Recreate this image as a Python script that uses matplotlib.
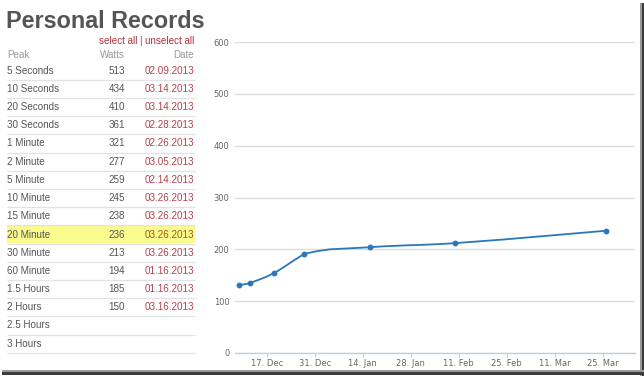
import numpy as np
import matplotlib
matplotlib.use("Agg")
import matplotlib.pyplot as plt
import matplotlib.dates as mdates
from matplotlib.path import Path
from matplotlib.patches import PathPatch, Rectangle
import datetime as dt

# ---------------- data ----------------
title = "Personal Records"
peaks = ["5 Seconds", "10 Seconds", "20 Seconds", "30 Seconds", "1 Minute",
         "2 Minute", "5 Minute", "10 Minute", "15 Minute", "20 Minute",
         "30 Minute", "60 Minute", "1.5 Hours", "2 Hours", "2.5 Hours", "3 Hours"]
watts = ["513", "434", "410", "361", "321", "277", "259", "245", "238", "236",
         "213", "194", "185", "150", "", ""]
dates_tbl = ["02.09.2013", "03.14.2013", "03.14.2013", "02.28.2013", "02.26.2013",
             "03.05.2013", "02.14.2013", "03.26.2013", "03.26.2013", "03.26.2013",
             "03.26.2013", "01.16.2013", "01.16.2013", "03.16.2013", "", ""]
highlight_row = "20 Minute"

series_dates = ["2012-12-09", "2012-12-12", "2012-12-19", "2012-12-28",
                "2013-01-16", "2013-02-10", "2013-03-26"]
series_values = [131, 135, 154, 191, 204, 212, 236]
y_ticks = [0, 100, 200, 300, 400, 500, 600]
x_ticks = ["2012-12-17", "2012-12-31", "2013-01-14", "2013-01-28",
           "2013-02-11", "2013-02-25", "2013-03-11", "2013-03-25"]
x_tick_labels = ["17. Dec", "31. Dec", "14. Jan", "28. Jan",
                 "11. Feb", "25. Feb", "11. Mar", "25. Mar"]

# ---------------- figure ----------------
W, H = 644, 376
fig = plt.figure(figsize=(W / 100, H / 100), dpi=100)
fig.patch.set_facecolor("white")

# overlay in pixel coordinates for the table
ov = fig.add_axes([0, 0, 1, 1])
ov.set_xlim(0, W)
ov.set_ylim(H, 0)
ov.axis("off")
ov.patch.set_visible(False)

TF = "Liberation Sans"
FS = 7.1
ov.text(6, 21, title, fontsize=16.8, fontweight="bold", color="#555555",
        family=TF, ha="left", va="center")

# select all | unselect all
ov.text(194, 41, "unselect all", fontsize=FS, color="#b0303a", family=TF,
        ha="right", va="center")
ov.text(140.3, 41, "|", fontsize=FS, color="#7a3a9a", family=TF,
        ha="center", va="center")
ov.text(138, 41, "select all", fontsize=FS, color="#b0303a", family=TF,
        ha="right", va="center")

# header
ov.text(7, 55.5, "Peak", fontsize=FS, color="#999999", family=TF, ha="left", va="center")
ov.text(125, 55.5, "Watts", fontsize=FS, color="#999999", family=TF, ha="right", va="center")
ov.text(194, 55.5, "Date", fontsize=FS, color="#999999", family=TF, ha="right", va="center")

y0, dy = 70.7, 18.2
for i, (p, w, d) in enumerate(zip(peaks, watts, dates_tbl)):
    yc = y0 + i * dy
    if p == highlight_row:
        ov.add_patch(Rectangle((7, yc - 9.6), 188, 18.0, facecolor="#fbfb8e",
                               edgecolor="none", zorder=0))
    ov.text(7, yc, p, fontsize=FS, color="#555555", family=TF, ha="left", va="center")
    ov.text(125, yc, w, fontsize=FS, color="#555555", family=TF, ha="right", va="center")
    dcol = "#9a5a10" if p == highlight_row else "#b5404a"
    ov.text(194, yc, d, fontsize=FS, color=dcol, family=TF, ha="right", va="center")
    ov.plot([7, 195], [yc + 9, yc + 9], color="#e2e2e2", lw=0.9, solid_capstyle="butt")

# screenshot shadow frame
ov.add_patch(Rectangle((640.5, 3), 1.5, H, facecolor="#9a9a9a", edgecolor="none"))
ov.add_patch(Rectangle((642, 3), 2.5, H, facecolor="#3c3c3c", edgecolor="none"))
ov.add_patch(Rectangle((2, 370), W, 1.5, facecolor="#9a9a9a", edgecolor="none"))
ov.add_patch(Rectangle((2, 371.5), W, 3.0, facecolor="#3c3c3c", edgecolor="none"))

# ---------------- chart ----------------
left, right = 235 / W, 635 / W
bottom, top = 1 - 353 / H, 1 - 42 / H
ax = fig.add_axes([left, bottom, right - left, top - bottom])
ax.patch.set_visible(False)

xd = [mdates.date2num(dt.datetime.strptime(s, "%Y-%m-%d")) for s in series_dates]
yv = list(series_values)

# Highcharts-style spline path
smoothing = 1.5
denom = smoothing + 1
verts = [(xd[0], yv[0])]
codes = [Path.MOVETO]
rc = {}
for i in range(len(xd)):
    px, py = xd[i], yv[i]
    lcx, lcy = px, py
    if 0 < i < len(xd) - 1:
        lx, ly = xd[i - 1], yv[i - 1]
        nx, ny = xd[i + 1], yv[i + 1]
        lcx = (smoothing * px + lx) / denom
        lcy = (smoothing * py + ly) / denom
        rcx = (smoothing * px + nx) / denom
        rcy = (smoothing * py + ny) / denom
        corr = ((rcy - lcy) * (rcx - px)) / (rcx - lcx) + py - rcy
        lcy += corr
        rcy += corr
        if lcy > ly and lcy > py:
            lcy = max(ly, py); rcy = 2 * py - lcy
        elif lcy < ly and lcy < py:
            lcy = min(ly, py); rcy = 2 * py - lcy
        if rcy > ny and rcy > py:
            rcy = max(ny, py); lcy = 2 * py - rcy
        elif rcy < ny and rcy < py:
            rcy = min(ny, py); lcy = 2 * py - rcy
        rc[i] = (rcx, rcy)
    if i > 0:
        prev = rc.get(i - 1, (xd[i - 1], yv[i - 1]))
        verts += [prev, (lcx, lcy), (px, py)]
        codes += [Path.CURVE4, Path.CURVE4, Path.CURVE4]

line_col = "#2a78b8"
ax.add_patch(PathPatch(Path(verts, codes), facecolor="none", edgecolor=line_col,
                       lw=1.3, zorder=3))
ax.plot(xd, yv, linestyle="none", marker="o", markersize=3.2, color=line_col, zorder=4)

ax.set_ylim(0, 600)
ax.set_xlim(mdates.date2num(dt.datetime(2012, 12, 7, 18)),
            mdates.date2num(dt.datetime(2013, 4, 3, 10)))
ax.set_yticks(y_ticks)
ax.set_yticklabels([str(v) for v in y_ticks])
xt = [mdates.date2num(dt.datetime.strptime(s, "%Y-%m-%d")) for s in x_ticks]
ax.set_xticks(xt)
ax.set_xticklabels(x_tick_labels)

for s in ["top", "right", "left"]:
    ax.spines[s].set_visible(False)
ax.spines["bottom"].set_color("#c0d0e0")
ax.spines["bottom"].set_linewidth(1.0)
ax.yaxis.grid(True, color="#dcdcdc", lw=1.0)
ax.set_axisbelow(True)
ax.tick_params(axis="y", length=0, pad=4, labelsize=6, labelcolor="#666666")
ax.tick_params(axis="x", length=3, width=0.8, color="#c0d0e0", pad=1.5,
               labelsize=6, labelcolor="#666666")

fig.savefig("out.png", dpi=100)
